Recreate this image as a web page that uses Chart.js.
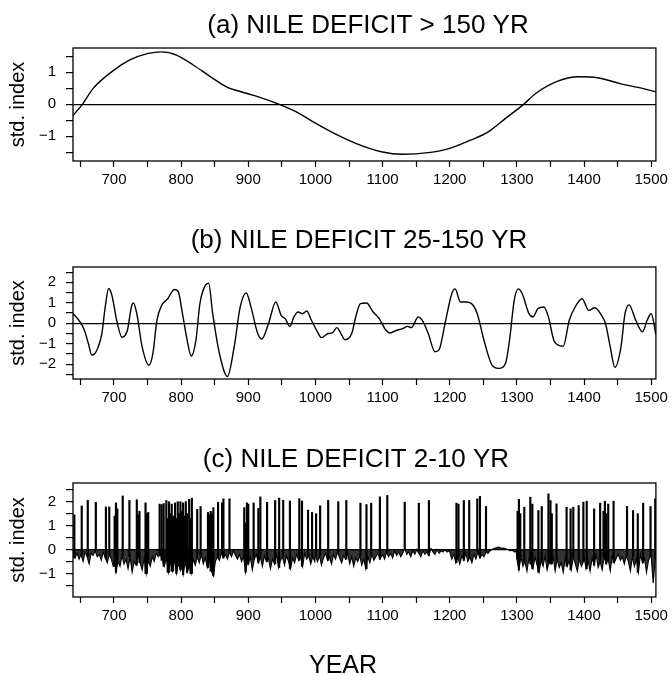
<!DOCTYPE html>
<html>
<head>
<meta charset="utf-8">
<script src="https://cdn.jsdelivr.net/npm/chart.js@4.4.1/dist/chart.umd.min.js"></script>
<style>
  body { margin: 0; background: #fff; }
  #wrap { position: relative; width: 672px; height: 676px; background: #fff; }
  canvas { position: absolute; left: 0; }
</style>
</head>
<body>
<div id="wrap">
  <canvas id="chartA" width="672" height="210" style="top:0"></canvas>
  <canvas id="chartB" width="672" height="210" style="top:210px"></canvas>
  <canvas id="chartC" width="672" height="256" style="top:420px"></canvas>
</div>
<script>
// (a) > 150 yr component
const yearsA = [639, 653, 669, 700, 723, 751, 771, 793, 818, 844, 869, 888, 914, 946, 971, 1000,
  1028, 1060, 1098, 1130, 1168, 1200, 1232, 1258, 1283, 1310, 1328, 1359, 1391, 1420, 1455, 1487, 1507];
const valuesA = [-0.35, 0, 0.5, 1.07, 1.38, 1.59, 1.64, 1.54, 1.23, 0.86, 0.53, 0.4, 0.24, 0, -0.23, -0.59,
  -0.91, -1.22, -1.48, -1.56, -1.51, -1.375, -1.11, -0.85, -0.44, 0, 0.34, 0.71, 0.86, 0.83, 0.64, 0.5, 0.39];

// (b) 25-150 yr component
const yearsB = [639, 650, 656, 662, 667, 671, 676, 682, 687, 692, 697, 704, 712, 720, 726, 729, 734, 742, 752, 758,
  764, 771, 780, 790, 796, 802, 809, 815, 822, 828, 836, 841, 847, 857, 869, 879, 888, 897, 904, 914,
  920, 930, 941, 949, 955, 962, 968, 974, 981, 987, 994, 1003, 1009, 1019, 1025, 1032, 1038, 1044, 1054, 1060,
  1067, 1076, 1086, 1095, 1105, 1111, 1121, 1130, 1137, 1143, 1153, 1159, 1168, 1178, 1184, 1194, 1203, 1208, 1216, 1225,
  1235, 1241, 1251, 1263, 1273, 1283, 1289, 1296, 1302, 1308, 1318, 1324, 1331, 1340, 1347, 1356, 1369, 1378, 1388, 1397,
  1407, 1416, 1426, 1432, 1439, 1446, 1455, 1461, 1467, 1477, 1487, 1494, 1500, 1507];
const valuesB = [0.48, 0.05, -0.34, -1.0, -1.55, -1.5, -1.2, -0.5, 0.8, 1.7, 1.36, 0.15, -0.68, -0.34, 0.8, 0.99, 0.47, -1.15, -2.05, -1.47,
  0.15, 0.87, 1.2, 1.65, 1.52, 0.47, -0.83, -1.6, -0.83, 0.96, 1.85, 1.95, 0.47, -1.47, -2.6, -1.15, 0.8, 1.48, 0.8, -0.5,
  -0.77, -0.02, 1.04, 0.39, 0.23, -0.15, 0.31, 0.55, 0.47, 0.6, 0.15, -0.42, -0.7, -0.5, -0.47, -0.21, -0.5, -0.8, -0.5, 0.31,
  0.96, 0.99, 0.55, 0.23, -0.34, -0.47, -0.34, -0.26, -0.15, -0.21, 0.31, 0.15, -0.5, -1.39, -1.3, 0.15, 1.44, 1.68, 1.04, 1.04,
  0.87, 0.47, -0.83, -2.04, -2.2, -1.96, -0.83, 1.12, 1.68, 1.44, 0.47, 0.31, 0.71, 0.8, 0.31, -0.91, -1.12, 0.15, 0.87, 1.2,
  0.63, 0.76, 0.39, -0.02, -1.15, -2.15, -1.15, 0.47, 0.9, 0.15, -0.42, 0.15, 0.47, -0.55];

// (c) 2-10 yr component: lower band every 3 years, by century
const lowStep = 3;
const lows600 = [-0.1, -0.35, -0.15, -0.4, -0.2, -0.5, -0.1, -0.3, -0.6, -0.15, -0.25, -0.05, -0.3, -0.2, -0.45, -0.1, -0.35, -0.55, -0.2, -0.4, -0.7];
const lows700 = [-0.3, -0.95, -0.5, -0.7, -0.25, -0.6, -0.4, -0.8, -0.3, -0.95, -0.5, -0.65, -0.2, -0.55, -0.85, -0.35, -1.0, -0.45, -0.7, -0.3,
  -0.5, -0.15, -0.3, -0.2, -0.45, -0.7, -0.35, -0.95, -0.5, -0.9, -0.4, -1.0, -0.6, -0.85];
const lows800 = [-0.6, -1.05, -0.5, -0.95, -0.7, -1.0, -0.4, -0.65, -0.3, -0.55, -0.2, -0.6, -0.35, -0.75, -0.45, -0.9, -1.1, -0.5, -0.3, -0.45,
  -0.15, -0.35, -0.2, -0.4, -0.1, -0.3, -0.05, -0.25, -0.4, -0.2, -0.5, -0.3, -0.95, -0.45];
const lows900 = [-0.6, -0.3, -0.85, -0.4, -0.2, -0.55, -0.3, -0.7, -0.25, -0.5, -0.35, -0.8, -0.4, -0.6, -0.2, -0.75, -0.45, -0.3, -0.65, -0.25,
  -0.5, -0.8, -0.35, -0.55, -0.2, -0.45, -0.3, -0.7, -0.15, -0.4, -0.25, -0.6, -0.3, -0.5];
const lows1000 = [-0.2, -0.5, -0.25, -0.65, -0.35, -0.15, -0.45, -0.3, -0.6, -0.2, -0.4, -0.1, -0.35, -0.55, -0.25, -0.4, -0.15, -0.6, -0.3, -0.7,
  -0.35, -0.5, -0.25, -0.65, -0.4, -0.8, -0.3, -0.55, -0.2, -0.45, -0.3, -0.15, -0.4, -0.25];
const lows1100 = [-0.2, -0.4, -0.1, -0.3, -0.15, -0.35, -0.05, -0.25, -0.1, -0.3, -0.15, 0.05, -0.2, -0.1, -0.3, -0.05, -0.2, 0.0, -0.15, -0.3,
  -0.05, -0.2, -0.1, -0.25, 0.05, -0.1, -0.2, 0.0, -0.15, -0.05, -0.1, 0.0, -0.1, -0.05];
const lows1200 = [-0.1, -0.4, -0.2, -0.55, -0.3, -0.6, -0.25, -0.45, -0.15, -0.5, -0.3, -0.55, -0.2, -0.4, -0.1, -0.35, -0.2, -0.3, -0.1, -0.15,
  -0.05, 0.0, 0.05, 0.08, 0.1, 0.08, 0.05, 0.06, 0.02, 0.0, -0.05, -0.02, -0.1, -0.08];
const lows1300 = [-0.4, -0.85, -0.3, -0.7, -0.5, -0.9, -0.35, -0.6, -0.8, -0.3, -0.65, -0.95, -0.45, -0.7, -0.25, -0.85, -0.5, -0.6, -0.3, -0.9,
  -0.4, -0.75, -0.55, -0.95, -0.35, -0.7, -0.45, -0.85, -0.3, -0.6, -0.9, -0.4, -0.7, -0.5];
const lows1400 = [-0.3, -0.8, -0.45, -0.9, -0.35, -0.65, -0.2, -0.75, -0.5, -0.85, -0.3, -0.6, -0.4, -0.9, -0.25, -0.55, -0.35, -0.2, -0.45, -0.3,
  -0.6, -0.25, -0.5, -0.9, -0.3, -0.7, -0.4, -0.95, -0.2, -0.55, -0.35, -0.95, -0.45, -0.25];
const lows1500 = [-0.3, -1.4, -0.4];
const lowStarts = [639, 700, 800, 900, 1000, 1100, 1200, 1300, 1400, 1500];
const lowBlocks = [lows600, lows700, lows800, lows900, lows1000, lows1100, lows1200, lows1300, lows1400, lows1500];

// deficit spikes of the 2-10 yr component
const spikeYears = [641, 652, 661, 673, 688, 693, 701, 703, 705, 713,
  723, 734, 736, 738, 747, 749, 751, 768, 771, 774,
  778, 780, 782, 784, 786, 788, 791, 793, 795, 797,
  799, 801, 803, 805, 807, 809, 812, 814, 816, 824,
  829, 840, 842, 844, 846, 848, 855, 861, 863, 872,
  894, 896, 898, 900, 908, 915, 918, 928, 940, 946,
  952, 962, 976, 980, 989, 995, 1001, 1007, 1019, 1034,
  1046, 1067, 1076, 1083, 1096, 1107, 1133, 1154, 1169, 1210,
  1213, 1221, 1229, 1241, 1245, 1254, 1301, 1303, 1305, 1311,
  1320, 1323, 1332, 1337, 1347, 1350, 1352, 1359, 1374, 1380,
  1384, 1392, 1399, 1404, 1415, 1424, 1429, 1431, 1433, 1436,
  1444, 1464, 1473, 1480, 1488, 1499, 1506];
const spikeValues = [1.45, 1.82, 2.06, 1.97, 1.78, 1.78, 1.4, 1.95, 1.7, 2.24,
  2.05, 2.08, 1.45, 1.6, 1.95, 1.5, 1.55, 1.9, 1.88, 1.92,
  2.05, 1.3, 2.0, 1.5, 1.9, 1.4, 1.95, 1.3, 2.0, 1.5,
  2.0, 1.6, 1.95, 1.4, 2.0, 1.5, 2.1, 1.3, 2.15, 1.68,
  1.8, 1.55, 1.45, 1.6, 1.5, 1.75, 1.97, 1.95, 2.12, 2.12,
  1.75, 1.1, 1.95, 1.9, 1.95, 1.72, 2.2, 1.97, 2.05, 2.15,
  2.06, 2.03, 2.13, 2.03, 1.65, 1.55, 1.5, 1.83, 2.06, 2.0,
  2.05, 1.94, 1.88, 1.94, 2.2, 2.26, 1.98, 1.94, 2.05, 1.94,
  1.9, 2.05, 2.05, 2.12, 2.22, 1.8, 1.6, 2.1, 1.5, 1.77,
  2.19, 1.9, 1.63, 1.8, 2.33, 2.05, 1.5, 1.91, 1.77, 1.7,
  1.77, 1.84, 1.98, 2.02, 1.7, 1.94, 1.6, 2.02, 1.5, 1.9,
  2.02, 1.8, 1.63, 1.5, 1.94, 1.8, 2.12];

const FONT = "'Liberation Sans', Arial, Helvetica, sans-serif";

function toPoints(xs, ys) {
  return xs.map((x, i) => ({ x: x, y: ys[i] }));
}

const bandC = [];
lowBlocks.forEach((block, b) => {
  block.forEach((v, i) => bandC.push({ x: lowStarts[b] + i * lowStep, y: v }));
});

// each spike rises from the band value of its nearest year
function bandAt(yr) {
  let best = bandC[0];
  bandC.forEach(p => { if (Math.abs(p.x - yr) < Math.abs(best.x - yr)) best = p; });
  return best.y;
}
const spikesC = spikeYears.map((yr, i) => ({ x: yr, y: [bandAt(yr), spikeValues[i]] }));

// frame, panel title and the rotated y title
const panelDecor = {
  id: 'panelDecor',
  afterDraw(chart, args, opts) {
    const ctx = chart.ctx;
    const a = chart.chartArea;
    ctx.save();
    ctx.strokeStyle = '#000';
    ctx.lineWidth = 1.3;
    ctx.strokeRect(a.left, a.top, a.right - a.left, a.bottom - a.top);
    ctx.fillStyle = '#000';
    ctx.textAlign = 'center';
    ctx.textBaseline = 'alphabetic';
    ctx.font = '26px ' + FONT;
    ctx.fillText(opts.title, opts.titleX, opts.titleY);
    ctx.save();
    ctx.translate(24, (a.top + a.bottom) / 2);
    ctx.rotate(-Math.PI / 2);
    ctx.font = '20px ' + FONT;
    ctx.fillText('std. index', 0, 0);
    ctx.restore();
    if (opts.xTitle) {
      ctx.font = '25px ' + FONT;
      ctx.fillText(opts.xTitle, opts.xTitleX, opts.xTitleY);
    }
    ctx.restore();
  }
};

function panelOptions(yMin, yMax, top, axisHeight, decor) {
  return {
    responsive: false,
    animation: false,
    layout: { padding: { top: top, right: 14, left: 0, bottom: 0 } },
    plugins: {
      legend: { display: false },
      tooltip: { enabled: false },
      panelDecor: decor
    },
    scales: {
      x: {
        type: 'linear',
        min: 639,
        max: 1507,
        offset: false,
        border: { display: false },
        grid: { drawOnChartArea: false, drawTicks: true, tickLength: 6, tickColor: '#000', tickWidth: 1.2, offset: false },
        ticks: {
          stepSize: 50, includeBounds: false, autoSkip: false, maxRotation: 0, padding: 4,
          color: '#000', font: { family: FONT, size: 15 },
          callback: v => (v % 100 === 0 ? String(v) : '')
        },
        afterFit: s => { s.height = axisHeight; }
      },
      y: {
        min: yMin,
        max: yMax,
        border: { display: false },
        grid: {
          color: c => (c.tick && c.tick.value === 0 ? '#000' : 'rgba(0,0,0,0)'),
          lineWidth: 1.2, tickLength: 7, tickColor: '#000', tickWidth: 1.2
        },
        ticks: {
          stepSize: 0.5, includeBounds: false, autoSkip: false, padding: 10,
          color: '#000', font: { family: FONT, size: 15 },
          callback: v => (Number.isInteger(v) ? String(v).replace('-', '\u2212') : '')
        },
        afterFit: s => { s.width = 73; }
      }
    }
  };
}

function lineSet(points, width, smooth) {
  return {
    type: 'line',
    data: points,
    borderColor: '#000',
    borderWidth: width,
    pointRadius: 0,
    fill: false,
    cubicInterpolationMode: smooth ? 'monotone' : 'default',
    tension: 0
  };
}

new Chart(document.getElementById('chartA'), {
  type: 'line',
  data: { datasets: [lineSet(toPoints(yearsA, valuesA), 1.4, true)] },
  options: panelOptions(-1.77, 1.76, 48, 49,
    { title: '(a) NILE DEFICIT > 150 YR', titleX: 368, titleY: 33 }),
  plugins: [panelDecor]
});

new Chart(document.getElementById('chartB'), {
  type: 'line',
  data: { datasets: [lineSet(toPoints(yearsB, valuesB), 1.4, true)] },
  options: panelOptions(-2.72, 2.75, 57, 41,
    { title: '(b) NILE DEFICIT 25-150 YR', titleX: 359, titleY: 38 }),
  plugins: [panelDecor]
});

// the dense annual band: dark fill down from the zero line
const bandSet = lineSet(bandC, 1.1, false);
bandSet.fill = 'origin';
bandSet.backgroundColor = 'rgba(0,0,0,0.8)';

new Chart(document.getElementById('chartC'), {
  type: 'line',
  data: {
    datasets: [
      bandSet,
      {
        type: 'bar',
        data: spikesC,
        backgroundColor: '#000',
        borderWidth: 0,
        barThickness: 1.5,
        grouped: false
      }
    ]
  },
  options: panelOptions(-1.98, 2.78, 63, 79,
    { title: '(c) NILE DEFICIT 2-10 YR', titleX: 356, titleY: 47, xTitle: 'YEAR', xTitleX: 343, xTitleY: 253 }),
  plugins: [panelDecor]
});
</script>
</body>
</html>
